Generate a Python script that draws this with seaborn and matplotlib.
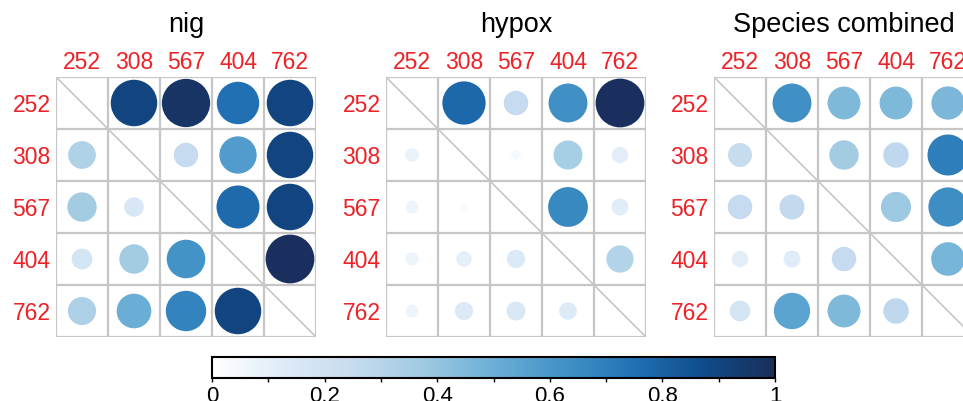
import matplotlib
matplotlib.use("Agg")
import matplotlib.pyplot as plt
from matplotlib.colors import LinearSegmentedColormap, Normalize
from matplotlib.cm import ScalarMappable
import numpy as np
import pandas as pd
import seaborn as sns

sns.set_style("white")
plt.rcParams['font.family'] = ['Liberation Sans', 'DejaVu Sans']
plt.rcParams['text.color'] = 'black'

labels = ['252', '308', '567', '404', '762']
titles = ['nig', 'hypox', 'Species combined']

# rows/cols follow `labels`; diagonal left empty (nan)
nig = [
    [np.nan, 0.90, 0.97, 0.75, 0.90],
    [0.32, np.nan, 0.25, 0.58, 0.90],
    [0.36, 0.16, np.nan, 0.77, 0.90],
    [0.18, 0.36, 0.62, np.nan, 0.99],
    [0.33, 0.50, 0.68, 0.90, np.nan],
]
hypox = [
    [np.nan, 0.78, 0.25, 0.63, 0.99],
    [0.08, np.nan, 0.04, 0.35, 0.11],
    [0.07, 0.03, np.nan, 0.66, 0.12],
    [0.07, 0.10, 0.14, np.nan, 0.31],
    [0.07, 0.14, 0.15, 0.13, np.nan],
]
combined = [
    [np.nan, 0.63, 0.45, 0.45, 0.46],
    [0.24, np.nan, 0.36, 0.27, 0.70],
    [0.25, 0.26, np.nan, 0.38, 0.64],
    [0.11, 0.12, 0.25, np.nan, 0.47],
    [0.18, 0.55, 0.45, 0.27, np.nan],
]
matrices = [nig, hypox, combined]

cmap = LinearSegmentedColormap.from_list('blues', [
    '#ffffff', '#deebf7', '#c6dbef', '#9ecae1', '#6baed6',
    '#4292c6', '#2171b5', '#0f4c8a', '#1b2d5a'])

W, H = 963, 401
fig = plt.figure(figsize=(W / 100, H / 100), dpi=100)

lefts = [56, 386, 714]
top, size = 77, 260
red = '#ec2227'
grid_c = '#c6c6c6'
smax = (49 * 0.72) ** 2

for left, title, mat in zip(lefts, titles, matrices):
    ax = fig.add_axes([left / W, (H - top - size) / H, size / W, size / H])
    m = np.array(mat, dtype=float)
    df = pd.DataFrame([(j, i, m[i, j]) for i in range(5) for j in range(5)
                       if not np.isnan(m[i, j])], columns=['x', 'y', 'v'])
    sns.scatterplot(data=df, x='x', y='y', hue='v', size='v', palette=cmap,
                    hue_norm=(0, 1), size_norm=(0, 1), sizes=(0, smax),
                    linewidth=0, legend=False, ax=ax, zorder=3)
    for k in range(6):
        ax.axhline(k - 0.5, color=grid_c, lw=1.6, zorder=1)
        ax.axvline(k - 0.5, color=grid_c, lw=1.6, zorder=1)
    ax.plot([-0.5, 4.5], [-0.5, 4.5], color=grid_c, lw=1.2, zorder=1)
    ax.set_xlim(-0.5, 4.5)
    ax.set_ylim(4.5, -0.5)
    for s in ax.spines.values():
        s.set_visible(False)
    ax.xaxis.tick_top()
    ax.set_xticks(range(5))
    ax.set_xticklabels(labels)
    ax.set_yticks(range(5))
    ax.set_yticklabels(labels)
    ax.tick_params(length=0, labelsize=16.5, labelcolor=red)
    ax.tick_params(axis='x', pad=2)
    ax.tick_params(axis='y', pad=4)
    ax.set_xlabel('')
    ax.set_ylabel('')
    ax.set_title(title, fontsize=19.5, pad=14, color='black')

cax = fig.add_axes([212 / W, (H - 378) / H, (775 - 212) / W, 21 / H])
sm = ScalarMappable(norm=Normalize(0, 1), cmap=cmap)
cb = fig.colorbar(sm, cax=cax, orientation='horizontal')
cb.outline.set_linewidth(1.5)
cb.outline.set_edgecolor('black')
cb.set_ticks([0, 0.2, 0.4, 0.6, 0.8, 1])
cb.set_ticklabels(['0', '0.2', '0.4', '0.6', '0.8', '1'])
cax.set_xticks(np.arange(0.1, 1.0, 0.2), minor=True)
cax.tick_params(which='both', direction='out', length=3, width=1, pad=3,
                labelsize=16, colors='black')

fig.savefig('out.png', dpi=100)
